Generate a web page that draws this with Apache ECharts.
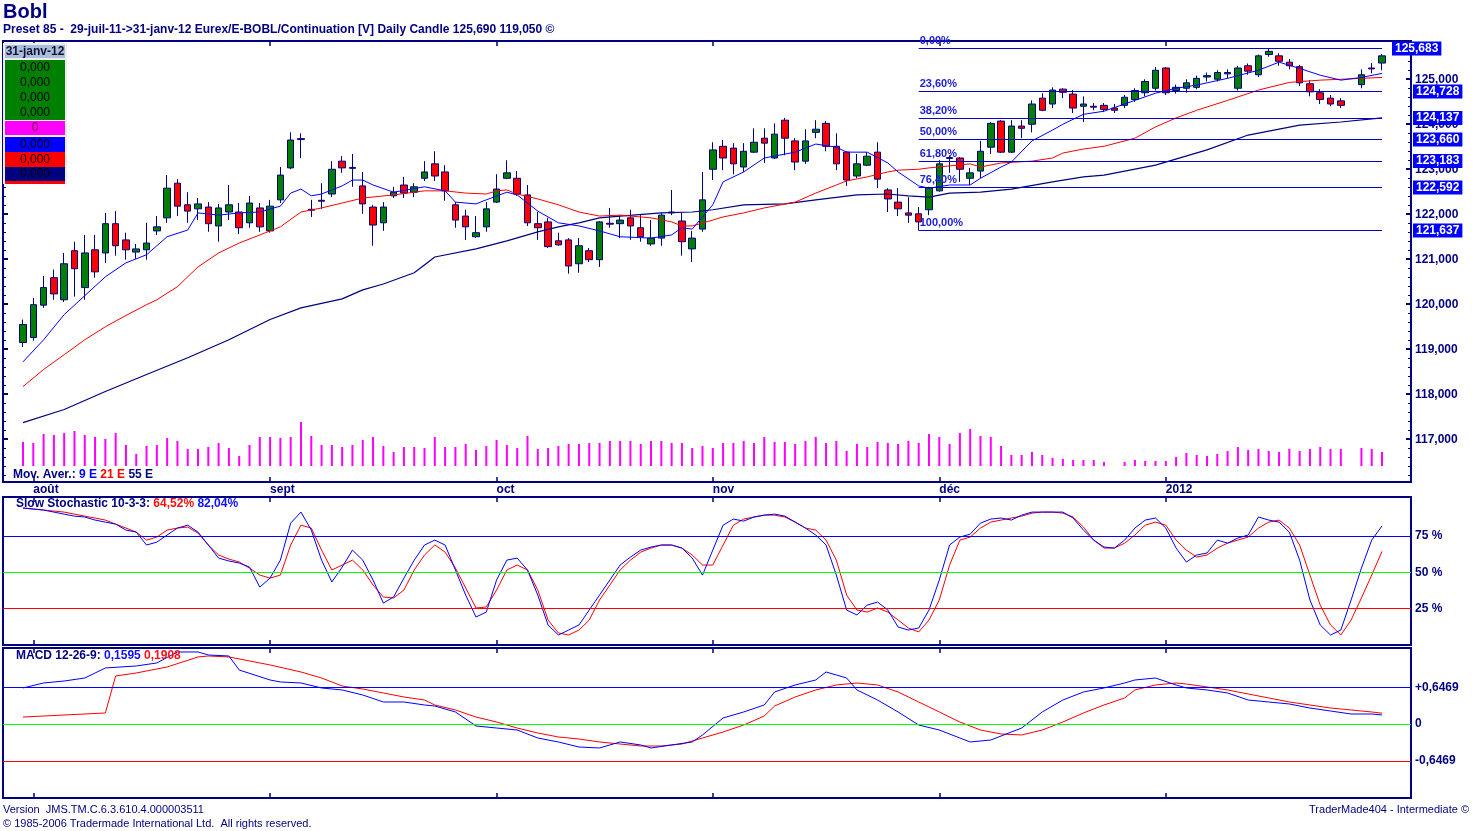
<!DOCTYPE html>
<html>
<head>
<meta charset="utf-8">
<title>Bobl</title>
<script src="https://cdn.jsdelivr.net/npm/echarts@6.0.0/dist/echarts.min.js"></script>
<style>
  html, body { margin: 0; padding: 0; background: #fff; }
  #chart { width: 1473px; height: 831px; }
</style>
</head>
<body>
<div id="chart"></div>
<script>
const FONT = '"Liberation Sans", Arial, sans-serif';
const NAVY = '#000080';

// trading days 29-juil-11 -> 31-janv-12
const days = [
  '2011-07-29',
  '2011-08-01','2011-08-02','2011-08-03','2011-08-04','2011-08-05','2011-08-08','2011-08-09','2011-08-10','2011-08-11','2011-08-12',
  '2011-08-15','2011-08-16','2011-08-17','2011-08-18','2011-08-19','2011-08-22','2011-08-23','2011-08-24','2011-08-25','2011-08-26',
  '2011-08-29','2011-08-30','2011-08-31',
  '2011-09-01','2011-09-02','2011-09-05','2011-09-06','2011-09-07','2011-09-08','2011-09-09','2011-09-12','2011-09-13','2011-09-14',
  '2011-09-15','2011-09-16','2011-09-19','2011-09-20','2011-09-21','2011-09-22','2011-09-23','2011-09-26','2011-09-27','2011-09-28',
  '2011-09-29','2011-09-30',
  '2011-10-03','2011-10-04','2011-10-05','2011-10-06','2011-10-07','2011-10-10','2011-10-11','2011-10-12','2011-10-13','2011-10-14',
  '2011-10-17','2011-10-18','2011-10-19','2011-10-20','2011-10-21','2011-10-24','2011-10-25','2011-10-26','2011-10-27','2011-10-28',
  '2011-10-31',
  '2011-11-01','2011-11-02','2011-11-03','2011-11-04','2011-11-07','2011-11-08','2011-11-09','2011-11-10','2011-11-11','2011-11-14',
  '2011-11-15','2011-11-16','2011-11-17','2011-11-18','2011-11-21','2011-11-22','2011-11-23','2011-11-24','2011-11-25','2011-11-28',
  '2011-11-29','2011-11-30',
  '2011-12-01','2011-12-02','2011-12-05','2011-12-06','2011-12-07','2011-12-08','2011-12-09','2011-12-12','2011-12-13','2011-12-14',
  '2011-12-15','2011-12-16','2011-12-19','2011-12-20','2011-12-21','2011-12-22','2011-12-23','2011-12-26','2011-12-27','2011-12-28',
  '2011-12-29','2011-12-30',
  '2012-01-02','2012-01-03','2012-01-04','2012-01-05','2012-01-06','2012-01-09','2012-01-10','2012-01-11','2012-01-12','2012-01-13',
  '2012-01-16','2012-01-17','2012-01-18','2012-01-19','2012-01-20','2012-01-23','2012-01-24','2012-01-25','2012-01-26','2012-01-27',
  '2012-01-30','2012-01-31'
];

const monthNames = {
  '2011-08': 'août', '2011-09': 'sept', '2011-10': 'oct',
  '2011-11': 'nov', '2011-12': 'déc', '2012-01': '2012'
};

// [open, close, low, high]; '-' = no quote that day
const candles = [
  [119.15,119.55,119.05,119.66],[119.26,119.99,119.19,120.14],[119.98,120.37,119.92,120.63],[120.59,120.23,120.10,120.77],
  [120.10,120.90,120.05,121.14],[121.19,120.79,120.17,121.39],[120.37,121.14,120.10,121.54],[121.21,120.72,120.59,121.54],
  [121.14,121.79,120.92,122.03],[121.79,121.30,121.08,122.07],[121.43,121.21,120.99,121.59],[121.16,121.23,121.01,121.34],
  [121.21,121.36,120.99,121.81],[121.63,121.72,121.54,121.96],[121.92,122.58,121.81,122.87],[122.69,122.18,121.96,122.78],
  [122.21,122.07,121.81,122.49],[122.12,122.23,121.87,122.36],[122.16,121.79,121.61,122.27],[121.74,122.14,121.39,122.23],
  [122.05,122.21,121.87,122.65],[122.05,121.70,121.56,122.25],[121.81,122.25,121.70,122.41],[122.14,121.72,121.61,122.25],
  [121.63,122.18,121.59,122.32],[122.32,122.87,122.25,123.05],[123.03,123.65,123.00,123.82],[123.68,123.66,123.25,123.80],
  [122.11,122.09,121.94,122.32],[122.31,122.29,122.12,122.69],[122.45,123.00,122.38,123.18],[123.18,123.03,122.92,123.29],
  [123.04,123.02,122.61,123.34],[122.63,122.23,122.01,122.94],[122.16,121.76,121.30,122.21],[121.81,122.16,121.63,122.27],
  [122.41,122.49,122.36,122.61],[122.65,122.47,122.36,122.83],[122.49,122.61,122.38,122.69],[122.80,122.94,122.74,123.18],
  [123.12,122.85,122.74,123.40],[122.94,122.52,122.30,123.09],[122.21,121.87,121.70,122.27],[121.96,121.72,121.43,122.10],
  [121.50,121.59,121.47,121.96],[121.72,122.12,121.61,122.27],[122.27,122.56,122.25,122.89],[122.80,122.92,122.78,123.20],
  [122.80,122.45,122.41,122.96],[122.43,121.81,121.74,122.65],[121.79,121.70,121.43,122.05],[121.83,121.28,121.25,121.92],
  [121.41,121.32,121.30,121.59],[121.43,120.85,120.68,121.47],[120.90,121.30,120.70,121.47],[121.19,120.99,120.94,121.25],
  [120.99,121.83,120.83,121.85],[121.80,121.78,121.70,122.14],[121.79,121.87,121.47,121.98],[121.92,121.74,121.43,122.10],
  [121.70,121.50,121.39,121.98],[121.34,121.47,121.30,121.87],[121.47,121.98,121.30,122.03],[122.05,122.03,121.98,122.54],
  [121.85,121.39,121.08,122.03],[121.23,121.47,120.94,121.63],[121.67,122.32,121.61,122.94],[123.00,123.43,122.76,123.60],
  [123.51,123.25,122.98,123.65],[123.47,123.12,122.89,123.58],[123.05,123.40,122.94,123.58],[123.38,123.60,123.36,123.91],
  [123.69,123.58,123.14,123.91],[123.25,123.78,123.23,124.02],[124.09,123.69,123.31,124.14],[123.63,123.16,122.98,123.69],
  [123.18,123.63,123.12,123.89],[123.82,123.89,123.69,124.09],[124.02,123.51,123.40,124.07],[123.51,123.12,122.98,123.80],
  [123.38,122.76,122.63,123.40],[122.85,123.12,122.80,123.34],[123.09,123.29,123.07,123.38],[123.38,122.78,122.58,123.60],
  [122.54,122.34,122.05,122.58],[122.27,122.12,121.96,122.58],[122.03,121.98,121.81,122.38],[122.01,121.83,121.64,122.16],
  [122.10,122.58,121.98,122.61],[122.52,123.12,122.50,123.20],[123.26,123.24,122.92,123.31],[123.25,123.00,122.72,123.27],
  [122.80,122.92,122.65,123.03],[122.96,123.40,122.80,123.63],[123.49,124.02,123.34,124.05],[124.07,123.38,123.36,124.09],
  [123.38,123.96,123.36,124.09],[123.96,123.91,123.69,124.09],[124.00,124.45,123.82,124.53],[124.58,124.31,124.29,124.69],
  [124.45,124.76,124.36,124.82],[124.78,124.71,124.58,124.80],[124.67,124.36,124.25,124.76],[124.40,124.45,124.05,124.62],
  [124.40,124.38,124.31,124.47],[124.42,124.33,124.27,124.47],[124.36,124.31,124.25,124.45],[124.42,124.60,124.36,124.65],
  [124.55,124.75,124.50,124.80],[124.70,124.95,124.62,125.00],[124.80,125.20,124.75,125.27],[125.25,124.70,124.65,125.27],
  [124.75,124.82,124.68,124.88],[124.80,124.92,124.70,125.00],[124.82,125.02,124.78,125.08],[125.05,125.08,124.95,125.15],
  [125.00,125.15,124.95,125.20],[125.12,125.15,125.02,125.22],[124.80,125.25,124.75,125.30],[125.30,125.18,125.10,125.35],
  [125.10,125.52,125.05,125.55],[125.55,125.62,125.50,125.69],[125.52,125.40,125.30,125.58],[125.38,125.30,125.22,125.45],
  [125.28,124.92,124.85,125.32],[124.90,124.72,124.62,124.98],[124.70,124.55,124.45,124.78],[124.58,124.45,124.40,124.65],
  [124.52,124.42,124.36,124.58],['-','-','-','-'],[124.88,125.10,124.80,125.22],[125.25,125.23,125.13,125.36],
  [125.36,125.52,125.20,125.56]
];

// volume, thousand lots
const volume = [
  480,460,640,620,660,700,620,580,540,660,420,240,400,420,560,500,340,340,380,460,
  360,200,420,580,580,560,580,880,600,420,420,380,420,520,580,400,280,380,380,360,
  580,380,380,440,320,400,520,420,360,600,340,360,400,440,440,460,460,500,500,500,
  440,500,500,460,460,360,400,360,460,460,500,460,580,480,480,440,500,580,460,500,
  300,440,380,480,460,440,500,460,640,580,440,660,740,600,580,400,220,220,280,220,
  160,140,120,120,120,80,0,80,120,100,100,100,180,260,220,200,240,300,380,320,
  340,300,280,340,300,340,380,340,340,0,360,340,280
];

// moving averages: [day index, price]
const ema9 = [
  [0,118.72],[2,119.21],[4,119.77],[6,120.19],[8,120.61],[10,120.92],[12,121.10],[14,121.50],[16,121.65],[17,122.03],
  [19,121.98],[21,122.03],[23,122.05],[25,122.18],[26,122.47],[27,122.56],[28,122.41],[29,122.45],[31,122.63],[32,122.76],
  [33,122.76],[34,122.65],[36,122.49],[39,122.61],[41,122.52],[42,122.27],[44,122.23],[45,122.32],[47,122.49],[48,122.43],
  [50,122.07],[52,121.81],[54,121.74],[56,121.63],[58,121.50],[61,121.47],[63,121.54],[64,121.70],[65,121.67],[67,122.21],
  [68,122.72],[70,122.94],[72,123.25],[75,123.38],[77,123.56],[79,123.49],[80,123.38],[82,123.38],[84,123.14],[85,122.94],
  [87,122.63],[88,122.58],[90,122.65],[92,122.65],[93,122.80],[95,123.05],[96,123.16],[98,123.63],[100,123.87],[101,124.00],
  [103,124.22],[105,124.29],[108,124.53],[110,124.69],[112,124.80],[114,124.87],[117,125.02],[120,125.20],[122,125.38],[124,125.24],
  [126,125.09],[128,124.98],[130,125.04],[132,125.13]
];
const ema21 = [
  [0,118.17],[2,118.55],[4,118.88],[6,119.21],[8,119.50],[10,119.75],[12,119.99],[13,120.10],[15,120.39],[17,120.83],
  [19,121.14],[21,121.36],[23,121.54],[25,121.72],[27,122.05],[29,122.14],[31,122.25],[33,122.36],[36,122.43],[39,122.52],
  [41,122.52],[43,122.47],[45,122.45],[46,122.52],[47,122.54],[48,122.45],[50,122.34],[52,122.21],[54,122.05],[56,121.96],
  [58,121.98],[61,121.92],[63,121.83],[64,121.74],[65,121.74],[67,121.87],[68,121.94],[70,122.03],[72,122.14],[75,122.27],
  [77,122.47],[79,122.65],[80,122.74],[82,122.83],[84,122.94],[85,122.98],[87,123.00],[88,123.03],[92,123.12],[93,123.05],
  [95,123.14],[98,123.18],[100,123.25],[101,123.36],[103,123.45],[105,123.51],[108,123.69],[110,123.94],[112,124.14],[114,124.31],
  [117,124.53],[120,124.76],[123,124.93],[126,124.98],[128,125.00],[130,125.02],[132,125.04]
];
const ema55 = [
  [0,117.37],[4,117.66],[8,118.06],[12,118.44],[16,118.81],[20,119.21],[24,119.66],[27,119.92],[31,120.12],[33,120.32],
  [35,120.45],[38,120.70],[40,121.05],[44,121.23],[47,121.41],[50,121.61],[52,121.72],[54,121.81],[56,121.92],[58,121.96],
  [62,122.03],[65,122.05],[67,122.10],[70,122.21],[74,122.23],[77,122.32],[81,122.43],[84,122.45],[86,122.41],[88,122.38],
  [90,122.47],[93,122.49],[96,122.56],[100,122.72],[103,122.83],[105,122.87],[110,123.09],[115,123.43],[119,123.76],[124,123.98],
  [128,124.05],[132,124.14]
];

// Fibonacci retracement from the low of 25-nov to the high
const fibLevels = [
  ['0,00%', 125.683], ['23,60%', 124.728], ['38,20%', 124.137], ['50,00%', 123.660],
  ['61,80%', 123.183], ['76,40%', 122.592], ['100,00%', 121.637]
];
const fibFrom = 87;
const fibTo = 132;

// slow stochastic 10-3-3, one value per day
const stochK = [
  94.4,93.7,93.0,91.6,90.2,88.8,88.2,86.1,84.7,83.3,79.2,77.8,68.9,70.9,75.8,80.6,82.6,77.8,68.9,59.9,
  57.9,56.5,53.7,39.9,46.1,58.5,84.0,91.6,79.2,58.5,43.4,53.7,65.4,58.5,44.8,28.9,33.1,46.1,58.5,68.9,
  72.3,68.9,51.7,34.4,19.3,22.7,44.8,58.5,59.9,51.7,34.4,13.8,6.9,10.3,13.8,24.1,34.4,44.8,55.1,60.6,
  65.4,67.5,68.9,68.9,66.8,59.9,48.2,65.4,82.6,86.8,85.4,88.2,89.5,90.2,88.8,84.7,80.6,75.8,68.9,48.2,
  24.1,20.7,27.5,29.6,24.1,12.4,10.3,11.7,24.1,44.8,68.9,74.4,76.4,84.0,86.8,87.5,86.1,89.5,91.6,91.6,
  91.6,91.6,87.5,79.2,72.3,67.5,66.8,72.3,80.6,86.1,87.5,80.6,66.8,57.2,62.0,63.4,72.3,70.2,73.7,75.8,
  88.2,86.1,84.7,77.8,58.5,31.0,13.8,6.9,10.3,31.0,53.0,72.3,82.04
];
const stochD = [
  94.4,93.7,93.0,92.3,91.6,90.2,88.8,87.5,86.1,83.3,80.6,77.8,72.3,74.4,79.2,80.6,81.3,77.1,68.9,62.0,
  59.2,57.2,53.0,48.2,46.1,48.2,68.9,82.6,80.6,65.4,51.7,55.1,58.5,51.7,41.3,33.1,32.4,37.9,51.7,62.0,
  68.9,64.0,53.0,39.3,25.5,26.2,37.9,51.7,55.1,51.7,37.9,17.2,8.3,6.9,10.3,17.2,31.0,41.3,51.7,58.5,
  64.0,66.8,68.9,68.9,66.8,62.0,55.1,55.1,68.9,82.6,86.8,88.2,89.5,89.5,88.2,84.7,80.6,79.2,72.3,58.5,
  34.4,24.1,22.7,25.5,22.7,17.2,11.7,9.0,17.2,31.0,55.1,72.3,74.4,80.6,84.7,86.1,87.5,88.8,90.9,91.6,
  91.6,90.9,88.2,81.3,72.3,66.8,66.8,70.2,75.8,82.6,84.7,82.6,72.3,65.4,60.6,62.0,66.8,70.2,72.3,74.4,
  80.6,84.7,86.1,80.6,68.9,48.2,27.5,13.8,6.9,17.2,32.4,48.2,64.52
];

// MACD 12-26-9: [day index, value]
const macdLine = [
  [0,0.635],[2,0.723],[4,0.758],[6,0.811],[7,0.899],[8,0.988],[11,1.023],[13,1.076],[15,1.270],[17,1.270],
  [18,1.217],[20,1.199],[21,0.952],[24,0.776],[25,0.741],[27,0.723],[29,0.635],[31,0.600],[33,0.511],[35,0.388],
  [37,0.388],[39,0.335],[40,0.317],[42,0.212],[44,-0.035],[46,-0.071],[48,-0.106],[50,-0.247],[52,-0.317],[54,-0.406],
  [56,-0.423],[58,-0.317],[60,-0.370],[61,-0.423],[63,-0.370],[65,-0.317],[66,-0.194],[68,0.106],[70,0.212],[72,0.335],
  [73,0.564],[75,0.688],[77,0.776],[78,0.917],[80,0.811],[81,0.600],[83,0.423],[85,0.212],[87,-0.018],[89,-0.106],
  [91,-0.247],[92,-0.317],[94,-0.282],[95,-0.212],[97,-0.071],[99,0.212],[101,0.423],[103,0.564],[105,0.635],[107,0.723],
  [108,0.776],[110,0.811],[112,0.688],[113,0.635],[115,0.600],[117,0.547],[119,0.423],[121,0.388],[123,0.353],[125,0.282],
  [127,0.229],[129,0.176],[131,0.176],[132,0.1595]
];
const macdSignal = [
  [0,0.123],[8,0.194],[9,0.847],[11,0.899],[14,1.005],[17,1.182],[18,1.199],[20,1.182],[24,1.041],[27,0.917],
  [29,0.811],[31,0.670],[33,0.617],[35,0.547],[37,0.476],[39,0.423],[40,0.335],[42,0.247],[44,0.123],[46,0.035],
  [48,-0.071],[50,-0.159],[52,-0.229],[54,-0.265],[56,-0.317],[58,-0.353],[60,-0.388],[62,-0.388],[64,-0.353],[66,-0.247],
  [68,-0.141],[70,-0.018],[72,0.141],[73,0.317],[75,0.476],[77,0.600],[79,0.688],[81,0.723],[83,0.688],[85,0.564],
  [87,0.388],[89,0.212],[91,0.035],[93,-0.106],[95,-0.176],[97,-0.194],[99,-0.106],[101,0.035],[103,0.194],[105,0.335],
  [107,0.459],[108,0.600],[110,0.688],[112,0.723],[113,0.705],[115,0.653],[117,0.600],[119,0.529],[121,0.459],[123,0.388],
  [125,0.335],[127,0.282],[129,0.247],[131,0.212],[132,0.1908]
];

const priceTicks = [117, 118, 119, 120, 121, 122, 123, 124, 125];
const stochTicks = [25, 50, 75];
const macdTicks = [-0.6469, 0, 0.6469];

const minorTicks = [];
for (let t = 1162; t <= 1258; t += 2) minorTicks.push(t / 10);

const PRICE_MIN = 116.05, PRICE_MAX = 125.85;
const STOCH_MIN = 0, STOCH_MAX = 102;
const MACD_MIN = -1.305, MACD_MAX = 1.34;

const monthStart = new Set();
days.forEach((d, i) => {
  if (i > 0 && d.slice(0, 7) !== days[i - 1].slice(0, 7)) monthStart.add(i);
});

const fmtComma = (v, n) => v.toFixed(n).replace('.', ',');

const dataLeft = 17.85;
const dataWidth = 1369.3;

const panels = {
  main: { top: 41, height: 441 },
  vol: { top: 400, height: 66 },
  stoch: { top: 497, height: 148 },
  macd: { top: 648, height: 150 }
};

function frameGrid(p) {
  return { left: 3, width: 1408, top: p.top, height: p.height, show: true, borderColor: NAVY, borderWidth: 2 };
}
function dataGrid(p) {
  return { left: dataLeft, width: dataWidth, top: p.top, height: p.height };
}
function hiddenValueX(gridIndex) {
  return { type: 'value', gridIndex, min: 0, max: 1, show: false };
}
function monthAxis(gridIndex, position, withLabels) {
  return {
    type: 'category', gridIndex, position, data: days, boundaryGap: true,
    axisLine: { show: false, onZero: false },
    axisTick: {
      show: true, inside: true, length: 5, alignWithLabel: true,
      interval: (i) => monthStart.has(i),
      lineStyle: { color: NAVY, width: 1.5 }
    },
    axisLabel: withLabels ? {
      show: true, interval: (i) => monthStart.has(i), align: 'left', margin: 2,
      formatter: (v) => monthNames[v.slice(0, 7)] || '',
      color: NAVY, fontFamily: FONT, fontWeight: 'bold', fontSize: 12
    } : { show: false },
    splitLine: { show: false }
  };
}
function hiddenY(gridIndex, min, max) {
  return { type: 'value', gridIndex, min, max, show: false, axisLine: { onZero: false } };
}
function tickY(gridIndex, position, min, max, ticks, len, width, label) {
  return {
    type: 'value', gridIndex, position, min, max,
    axisLine: { show: false, onZero: false },
    axisTick: { show: true, inside: true, customValues: ticks, length: len, lineStyle: { color: NAVY, width } },
    axisLabel: label ? Object.assign({ show: true, customValues: ticks, color: NAVY, fontFamily: FONT, fontWeight: 'bold', fontSize: 12, margin: 4 }, label) : { show: false },
    splitLine: { show: false }
  };
}

const grids = [
  frameGrid(panels.main),   // 0
  dataGrid(panels.main),    // 1
  dataGrid(panels.vol),     // 2
  frameGrid(panels.stoch),  // 3
  dataGrid(panels.stoch),   // 4
  frameGrid(panels.macd),   // 5
  dataGrid(panels.macd)     // 6
];

const xAxes = [
  hiddenValueX(0),                 // 0
  monthAxis(1, 'bottom', true),    // 1
  monthAxis(1, 'top', false),      // 2
  Object.assign(monthAxis(2, 'bottom', false), { show: false }), // 3
  hiddenValueX(3),                 // 4
  monthAxis(4, 'bottom', false),   // 5
  monthAxis(4, 'top', false),      // 6
  hiddenValueX(5),                 // 7
  monthAxis(6, 'bottom', false),   // 8
  monthAxis(6, 'top', false)       // 9
];

const fibBoxLabel = {
  backgroundColor: '#0000ff', color: '#ffffff', padding: [1, 3, 0, 3], lineHeight: 13, margin: 2,
  formatter: (v) => fmtComma(v, 3)
};

const yAxes = [
  tickY(0, 'right', PRICE_MIN, PRICE_MAX, priceTicks, 5, 2, { formatter: (v) => fmtComma(v, 3) }), // 0
  tickY(0, 'right', PRICE_MIN, PRICE_MAX, minorTicks, 3, 1, null),                                // 1
  tickY(0, 'left', PRICE_MIN, PRICE_MAX, priceTicks, 5, 2, null),                                  // 2
  tickY(0, 'left', PRICE_MIN, PRICE_MAX, minorTicks, 3, 1, null),                                  // 3
  Object.assign(tickY(0, 'right', PRICE_MIN, PRICE_MAX, fibLevels.slice(1).map(f => f[1]), 0, 1,
    Object.assign({ customValues: fibLevels.slice(1).map(f => f[1]) }, fibBoxLabel)), { z: 10 }),   // 4
  Object.assign(tickY(0, 'right', PRICE_MIN, PRICE_MAX, [fibLevels[0][1]], 0, 1,
    Object.assign({ customValues: [fibLevels[0][1]] }, fibBoxLabel)), { z: 10, offset: -21 }),      // 5
  hiddenY(1, PRICE_MIN, PRICE_MAX),                                                                // 6
  hiddenY(2, 0, 1320),                                                                             // 7
  tickY(3, 'right', STOCH_MIN, STOCH_MAX, stochTicks, 0, 1, { formatter: (v) => v + ' %' }),       // 8
  hiddenY(4, STOCH_MIN, STOCH_MAX),                                                                // 9
  tickY(5, 'right', MACD_MIN, MACD_MAX, macdTicks, 0, 1, {
    formatter: (v) => v === 0 ? '0' : (v > 0 ? '+' : '-') + fmtComma(Math.abs(v), 4)
  }),                                                                                              // 10
  hiddenY(6, MACD_MIN, MACD_MAX)                                                                   // 11
];

function refLines(xi, yi, lines) {
  return {
    type: 'line', xAxisIndex: xi, yAxisIndex: yi, data: [], silent: true,
    markLine: {
      symbol: 'none', silent: true, animation: false, label: { show: false },
      data: lines.map(l => ({ yAxis: l[0], lineStyle: { color: l[1], width: 1, type: 'solid' } }))
    }
  };
}

function maLine(data, color, width) {
  return {
    type: 'line', xAxisIndex: 1, yAxisIndex: 6, data, showSymbol: false, symbol: 'none',
    lineStyle: { color, width }, silent: true, z: 3
  };
}

const series = [
  {
    type: 'line', xAxisIndex: 1, yAxisIndex: 6, data: [], silent: true, z: 1,
    markLine: {
      symbol: 'none', silent: true, animation: false,
      lineStyle: { color: '#0000cc', width: 1, type: 'solid' },
      label: {
        show: true, position: 'insideStartTop', distance: [1, 2], formatter: '{b}',
        color: '#2020d8', fontFamily: FONT, fontWeight: 'bold', fontSize: 11
      },
      data: fibLevels.map(f => [
        { name: f[0], coord: [fibFrom, f[1]] },
        { coord: [fibTo, f[1]] }
      ])
    }
  },
  {
    type: 'bar', xAxisIndex: 3, yAxisIndex: 7, data: volume, barWidth: 2,
    itemStyle: { color: '#ff00ff' }, silent: true
  },
  {
    type: 'candlestick', xAxisIndex: 1, yAxisIndex: 6, data: candles, barWidth: 7, silent: true, z: 2,
    itemStyle: {
      color: '#008000', color0: '#ff0000',
      borderColor: NAVY, borderColor0: NAVY, borderColorDoji: NAVY, borderWidth: 1
    }
  },
  maLine(ema55, NAVY, 1.2),
  maLine(ema21, '#ff0000', 1),
  maLine(ema9, '#0000ff', 1),
  refLines(4, 8, [[75, '#0000ff'], [50, '#00ff00'], [25, '#ff0000']]),
  {
    type: 'line', xAxisIndex: 5, yAxisIndex: 9, data: stochD, showSymbol: false, symbol: 'none',
    lineStyle: { color: '#ff0000', width: 1 }, silent: true
  },
  {
    type: 'line', xAxisIndex: 5, yAxisIndex: 9, data: stochK, showSymbol: false, symbol: 'none',
    lineStyle: { color: '#0000ff', width: 1 }, silent: true
  },
  refLines(7, 10, [[0.6469, '#0000ff'], [0, '#00ff00'], [-0.6469, '#ff0000']]),
  {
    type: 'line', xAxisIndex: 8, yAxisIndex: 11, data: macdSignal, showSymbol: false, symbol: 'none',
    lineStyle: { color: '#ff0000', width: 1 }, silent: true
  },
  {
    type: 'line', xAxisIndex: 8, yAxisIndex: 11, data: macdLine, showSymbol: false, symbol: 'none',
    lineStyle: { color: '#0000ff', width: 1 }, silent: true
  }
];

function txt(x, y, text, font, fill, extra) {
  return {
    type: 'text', x, y, silent: true, z: 20,
    style: Object.assign({ text, font, fill, verticalAlign: 'middle' }, extra || {})
  };
}
function box(x, y, w, h, fill) {
  return { type: 'rect', silent: true, z: 19, shape: { x, y, width: w, height: h }, style: { fill } };
}
const B12 = 'bold 12px ' + FONT;
const N12 = '12px ' + FONT;
const N11 = '11px ' + FONT;
const richB = (fill) => ({ fill, font: B12 });

const graphic = [
  txt(3, 12, 'Bobl', 'bold 20px ' + FONT, NAVY),
  txt(3, 30, 'Preset 85 -  29-juil-11->31-janv-12 Eurex/E-BOBL/Continuation [V] Daily Candle 125,690 119,050 \u00a9', B12, NAVY),

  // values box at top left
  box(3, 43, 64, 141, '#ececec'),
  box(5, 45, 60, 13, '#a9bfd8'),
  txt(35, 51.5, '31-janv-12', B12, '#10103a', { align: 'center' }),
  box(5, 60, 60, 60, '#008000'),
  txt(35, 67.5, '0,000', N12, '#000', { align: 'center' }),
  txt(35, 82.5, '0,000', N12, '#000', { align: 'center' }),
  txt(35, 97.5, '0,000', N12, '#000', { align: 'center' }),
  txt(35, 112.5, '0,000', N12, '#000', { align: 'center' }),
  box(5, 121, 60, 14, '#ff00ff'),
  txt(35, 128, '0', N12, '#800040', { align: 'center' }),
  box(5, 137, 60, 15, '#0000ff'),
  txt(35, 144.5, '0,000', N12, '#000', { align: 'center' }),
  box(5, 152, 60, 15, '#ff0000'),
  txt(35, 159.5, '0,000', N12, '#000', { align: 'center' }),
  box(5, 167, 60, 14, '#000080'),
  txt(35, 174, '0,000', N12, '#000', { align: 'center' }),
  box(5, 181, 60, 3, '#ff0000'),

  // panel captions
  {
    type: 'text', x: 13, y: 474.5, silent: true, z: 20,
    style: {
      text: '{a|Mov. Aver.: }{b|9 E }{r|21 E }{n|55 E}', verticalAlign: 'middle',
      rich: { a: richB(NAVY), b: richB('#0000ff'), r: richB('#ff0000'), n: richB(NAVY) }
    }
  },
  {
    type: 'text', x: 16, y: 503.5, silent: true, z: 20,
    style: {
      text: '{a|Slow Stochastic 10-3-3: }{r|64,52% }{b|82,04%}', verticalAlign: 'middle',
      rich: { a: richB(NAVY), r: richB('#ff1010'), b: richB('#1010ff') }
    }
  },
  {
    type: 'text', x: 16, y: 655.5, silent: true, z: 20,
    style: {
      text: '{a|MACD 12-26-9: }{b|0,1595 }{r|0,1908}', verticalAlign: 'middle',
      rich: { a: richB(NAVY), b: richB('#1010ff'), r: richB('#ff1010') }
    }
  },

  // footer
  txt(3, 809.5, 'Version  JMS.TM.C.6.3.610.4.000003511', N11, NAVY),
  txt(3, 823.5, '\u00a9 1985-2006 Tradermade International Ltd.  All rights reserved.', N11, NAVY),
  txt(1469, 809.5, 'TraderMade404 - Intermediate \u00a9', N11, NAVY, { align: 'right' })
];

const chart = echarts.init(document.getElementById('chart'), null, { renderer: 'canvas' });
chart.setOption({
  animation: false,
  backgroundColor: '#ffffff',
  textStyle: { fontFamily: FONT },
  grid: grids,
  xAxis: xAxes,
  yAxis: yAxes,
  series,
  graphic
});
window.addEventListener('resize', () => chart.resize());
</script>
</body>
</html>
